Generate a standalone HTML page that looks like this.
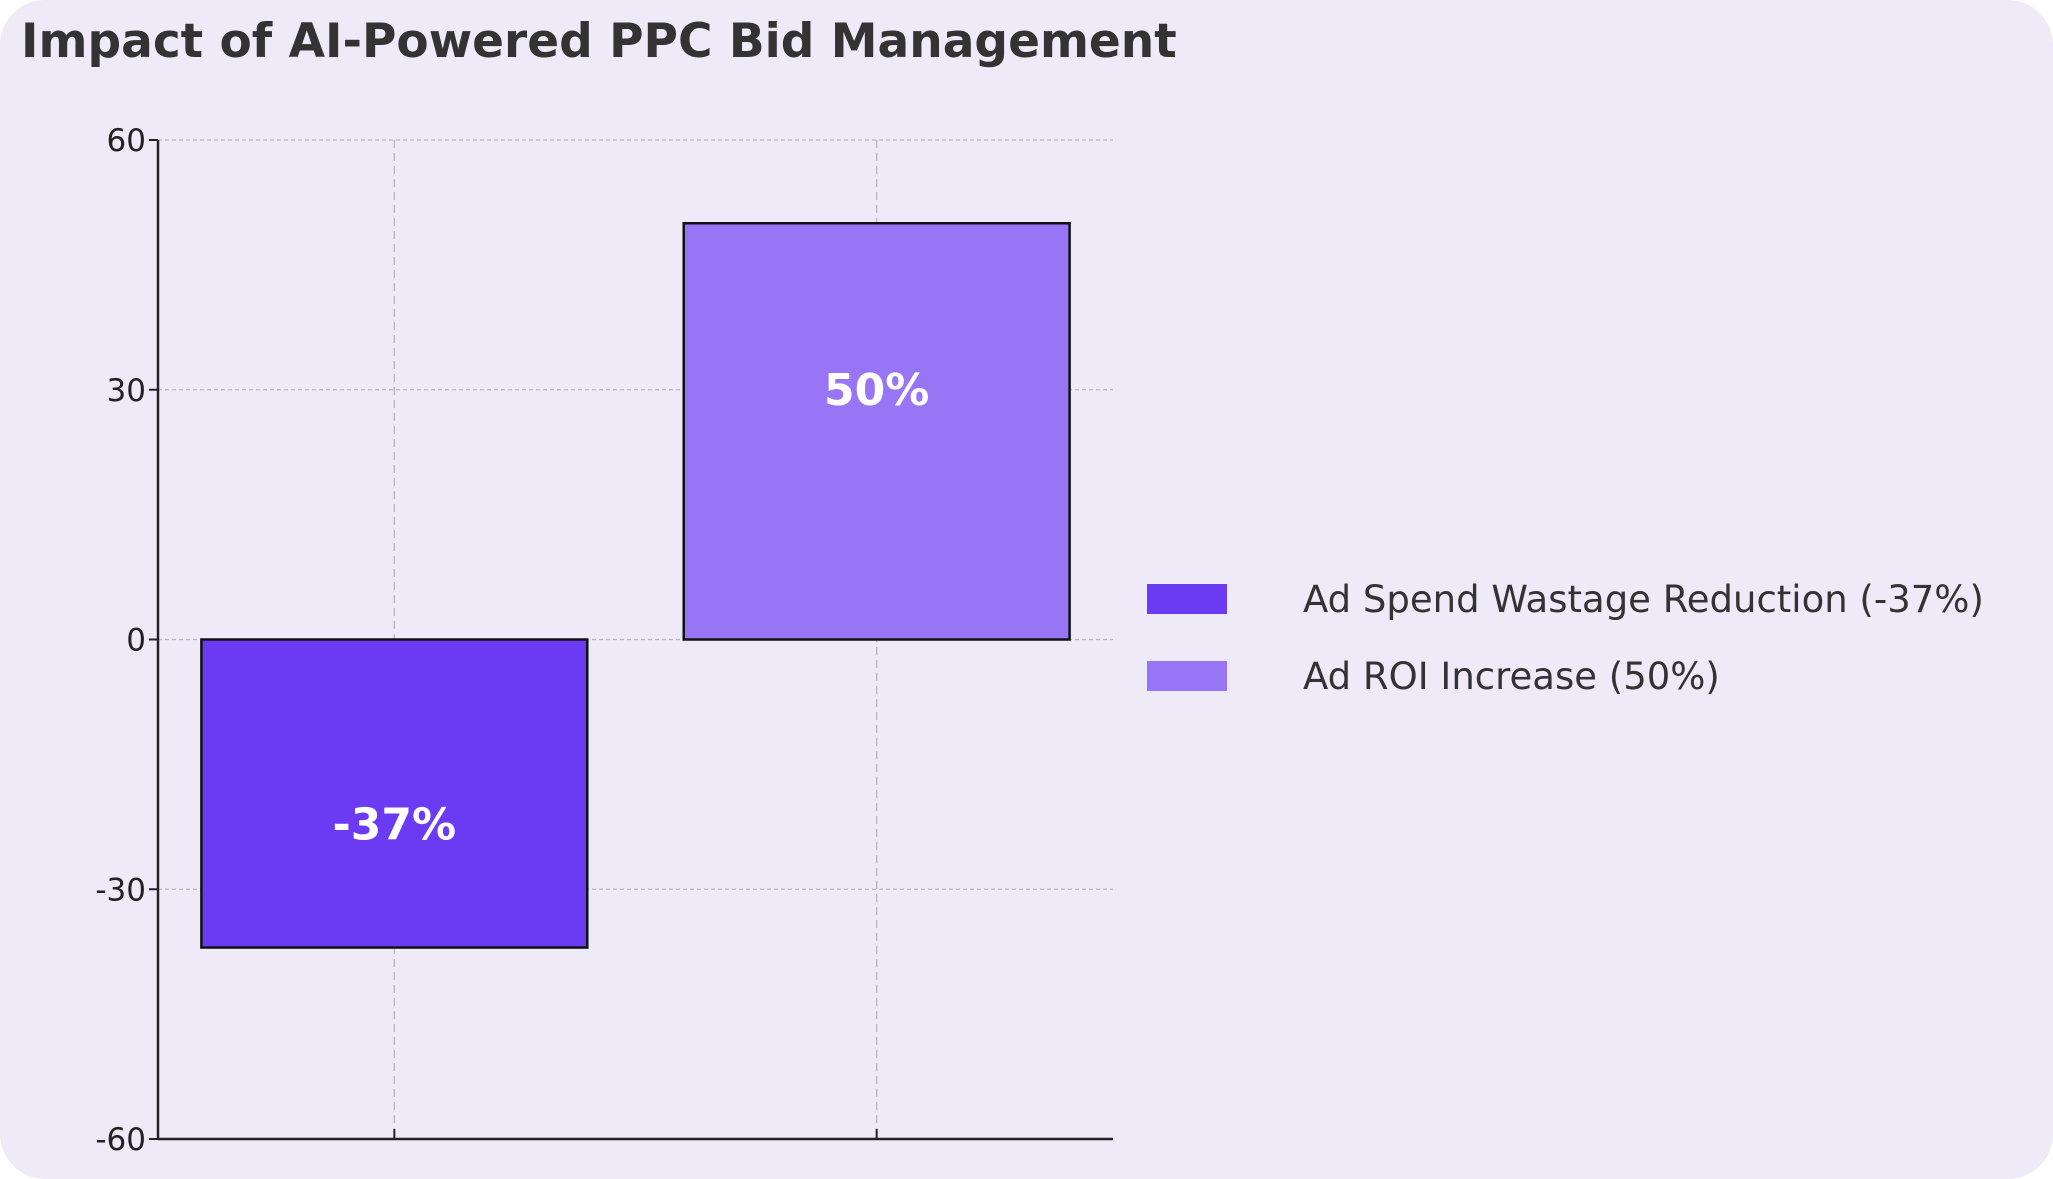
<!DOCTYPE html>
<html><head><meta charset="utf-8"><style>
html,body{margin:0;padding:0;background:#fff;}
#wrap{width:2053px;height:1179px;position:relative;overflow:hidden;}
svg text{font-family:"DejaVu Sans","Liberation Sans",sans-serif;}
</style></head><body>
<div id="wrap">
<svg id="chart" width="2053" height="1179" viewBox="0 0 2053 1179">
<rect x="0" y="0" width="2053" height="1179" rx="45" fill="#eeeaf8"/>
<text x="21" y="57" font-size="47" font-weight="bold" fill="#333333">Impact of AI-Powered PPC Bid Management</text>
<g id="grid"></g><g id="bars"></g><g id="axes"></g><g id="legend"></g>
</svg>
</div>
<script>
const categories = ["Ad Spend Wastage Reduction (-37%)", "Ad ROI Increase (50%)"];
const values = [-37, 50];
const barLabels = ["-37%", "50%"];
const colors = ["#6a3bf2", "#9775f5"];
const yTicks = [-60, -30, 0, 30, 60];
const yTickLabels = ["-60", "-30", "0", "30", "60"];

const NS = "http://www.w3.org/2000/svg";
const L = 158, R = 1113, T = 140, B = 1139;
const yMin = -60, yMax = 60, xMin = -0.49, xMax = 1.49;
const y = v => B - (v - yMin) / (yMax - yMin) * (B - T);
const x = v => L + (v - xMin) / (xMax - xMin) * (R - L);
function mk(tag, attrs, parent) {
  const e = document.createElementNS(NS, tag);
  for (const k in attrs) e.setAttribute(k, attrs[k]);
  parent.appendChild(e); return e;
}
const grid = document.getElementById('grid'), bars = document.getElementById('bars'),
      axes = document.getElementById('axes'), legend = document.getElementById('legend');

yTicks.forEach((t, i) => {
  const gl = mk('line', {x1: L, x2: R, y1: y(t), y2: y(t), stroke: '#b8b4c4', 'stroke-width': 1.3, 'stroke-dasharray': '4,3'}, grid);
  
  
  const tk = mk('line', {x1: L - 9, x2: L, y1: y(t), y2: y(t), stroke: '#222', 'stroke-width': 2}, axes);
  
  
  const tl = mk('text', {x: L - 12, y: y(t) + 11, 'font-size': 31, 'text-anchor': 'end', fill: '#222'}, axes);
  tl.textContent = yTickLabels[i];
  
  
});
categories.forEach((c, i) => {
  const gl = mk('line', {x1: x(i), x2: x(i), y1: T, y2: B, stroke: '#b8b4c4', 'stroke-width': 1.3, 'stroke-dasharray': '8,5'}, grid);
  
  
  const tk = mk('line', {x1: x(i), x2: x(i), y1: B, y2: B - 10, stroke: '#222', 'stroke-width': 2}, axes);
  
  
  const w = 0.8;
  const x0 = x(i - w / 2), x1 = x(i + w / 2);
  const y0 = Math.min(y(0), y(values[i])), h = Math.abs(y(values[i]) - y(0));
  const r = mk('rect', {x: x0, y: y0, width: x1 - x0, height: h, fill: colors[i], stroke: '#111', 'stroke-width': 2.5}, bars);
  
  
  const bl = mk('text', {x: x(i), y: y(values[i] * 0.6) + 15, 'font-size': 44, 'font-weight': 'bold', 'text-anchor': 'middle', fill: '#ffffff'}, bars);
  bl.textContent = barLabels[i];
  
  
  const sw = mk('rect', {x: 1147, y: 584 + i * 77, width: 80, height: 30, fill: colors[i]}, legend);
  
  
  const lt = mk('text', {x: 1303, y: 612 + i * 77, 'font-size': 37, fill: '#333333'}, legend);
  lt.textContent = c;
  
  
});
const ya = mk('line', {x1: L, x2: L, y1: T, y2: B, stroke: '#222', 'stroke-width': 2.5}, axes);


const xa = mk('line', {x1: L, x2: R, y1: B, y2: B, stroke: '#222', 'stroke-width': 2.5}, axes);


</script>
</body></html>
